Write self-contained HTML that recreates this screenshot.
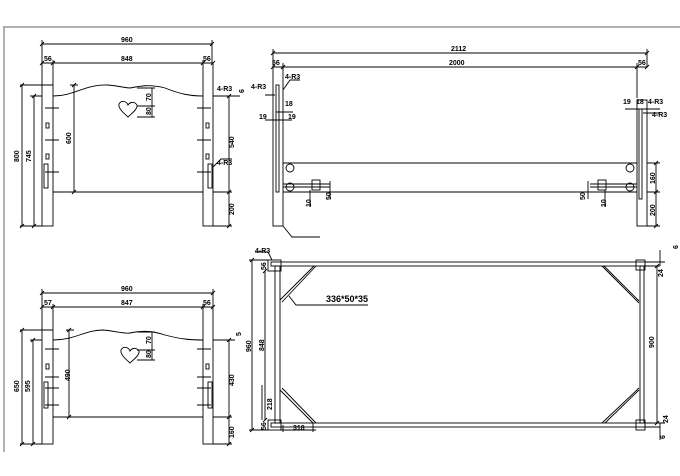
<!DOCTYPE html>
<html><head><meta charset="utf-8"><style>
html,body{margin:0;padding:0;background:#fff}
svg{display:block}
text{font-family:"Liberation Sans",sans-serif;font-size:7px;font-weight:bold;fill:#000}
</style></head><body>
<svg width="680" height="476" viewBox="0 0 680 476" xmlns="http://www.w3.org/2000/svg">
<g fill="none" stroke="#999" stroke-width="1.5"><path d="M3 27H680M4 27V452"/></g>
<g fill="none" stroke="#000" stroke-width="0.9">
<path d="M42 44H212M42 40V63M212 40V63M42 63H213M53 60V63M203 60V63"/>
<path d="M40 46l4-4M210 46l4-4M40 65l4-4M51 65l4-4M201 65l4-4M211 65l4-4"/>
<rect x="42" y="63" width="11" height="163"/><rect x="203" y="63" width="10" height="163"/>
<path d="M53 96C75 96 85 84 108 85C120 86 125 88 130 88C140 86 150 84 165 88C180 94 190 96 203 96"/>
<path d="M53 192H203"/>
<path d="M20 85H53M22 85V226M30 96H42M34 96V226M20 226H42M70 85H78M74 85V192M70 192H78"/>
<path d="M20 228l4-4M32 228l4-4M20 87l4-4M32 98l4-4M72 87l4-4M72 194l4-4"/>
<path d="M213 96H232M229 96V226M213 192H232M213 226H232M227 98l4-4M227 194l4-4M227 228l4-4"/>
<path d="M119 104c3-5 8-2 9 1c2-3 6-4 9 0c1 4-6 9-9 12c-3-3-10-8-9-13z"/>
<path d="M137 88H155M152 88V117M137 106H155M137 117H155"/>
<path d="M45 108H59M45 140H59M45 172H59M197 108H211M197 140H211M197 172H211"/>
<rect x="46" y="123" width="3" height="5"/><rect x="46" y="154" width="3" height="5"/>
<rect x="206" y="123" width="3" height="5"/><rect x="206" y="154" width="3" height="5"/>
<rect x="44" y="164" width="4" height="24"/><rect x="208" y="164" width="4" height="24"/>
<path d="M213 96H240M213 167l8-8H232"/>
<path d="M273 53H647M273 49V67M647 49V67M273 67H647M283 63V70M637 63V98"/>
<path d="M271 55l4-4M645 55l4-4M271 69l4-4M281 69l4-4M635 69l4-4M645 69l4-4"/>
<rect x="273" y="67" width="10" height="159"/><rect x="276" y="85" width="3" height="107"/>
<rect x="637" y="100" width="10" height="126"/><rect x="639" y="109" width="3" height="90"/>
<path d="M283 163H637M283 192H637M283 184H330M283 187H330M590 184H637M590 187H637"/>
<circle cx="290" cy="168" r="4"/><circle cx="290" cy="187" r="4"/>
<circle cx="630" cy="168" r="4"/><circle cx="630" cy="187" r="4"/>
<rect x="312" y="180" width="8" height="10"/><rect x="598" y="180" width="8" height="10"/>
<path d="M330 181V199M310 190V207M588 181V199M605 190V207"/>
<path d="M647 163H660M647 192H660M647 226H660M656 163V226M654 194l4-4M654 165l4-4M654 228l4-4"/>
<path d="M283 226L292 237H320"/>
<path d="M283 90L290 80H300M265 95H275M276 112H293M265 120H292M625 109H660M643 113H660"/>
<path d="M42 293H213M42 289V307M213 289V307M42 307H213M53 304V307M203 304V307"/>
<path d="M40 295l4-4M211 295l4-4M40 309l4-4M51 309l4-4M201 309l4-4M211 309l4-4"/>
<rect x="42" y="307" width="11" height="137"/><rect x="203" y="307" width="10" height="137"/>
<path d="M53 340C75 340 85 330 103 330C115 331 125 334 130 333C140 331 150 330 165 335C180 339 190 340 203 340"/>
<path d="M53 417H203"/>
<path d="M20 330H53M22 330V444M30 340H42M33 340V444M20 444H42M66 330H74M69 330V417M66 417H74"/>
<path d="M20 446l4-4M31 446l4-4M20 332l4-4M31 342l4-4M67 332l4-4M67 419l4-4"/>
<path d="M213 340H232M229 340V444M213 417H232M213 444H232M227 342l4-4M227 419l4-4M227 446l4-4"/>
<path d="M121 350c3-5 8-2 9 1c2-3 6-4 9 0c1 4-6 9-9 12c-3-3-10-8-9-13z"/>
<path d="M137 332H155M152 332V360M137 350H155M137 360H155"/>
<path d="M45 349H59M45 377H59M45 388H59M45 405H59M197 349H211M197 377H211M197 388H211M197 405H211"/>
<rect x="46" y="364" width="3" height="5"/><rect x="206" y="364" width="3" height="5"/>
<rect x="44" y="382" width="4" height="26"/><rect x="208" y="382" width="4" height="26"/>
<path d="M213 340H235"/>
<rect x="271" y="262" width="374" height="4"/><rect x="271" y="423" width="374" height="4"/>
<rect x="275" y="266" width="5" height="157"/><rect x="640" y="266" width="4" height="157"/>
<rect x="268" y="260" width="13" height="11"/><rect x="636" y="260" width="9" height="10"/>
<rect x="268" y="420" width="13" height="10"/><rect x="636" y="420" width="9" height="10"/>
<path d="M280 300L314 266M282 302L316 266M280 390L313 423M282 388L316 423M604 266L639 301M602 266L639 303M605 423L639 390M602 423L639 388"/>
<path d="M289 296L296 305H368"/>
<path d="M252 260V430M249 260H268M249 430H268M265 271V420M262 385V420M283 425V432M313 423V432M280 430H316"/>
<path d="M250 262l4-4M250 432l4-4M263 273l4-4M263 422l4-4"/>
<path d="M645 262H665M645 266H660M645 423H665M645 427H660M657 266V423M660 250V266M660 423V440M655 268l4-4M655 425l4-4"/>
<path d="M255 252H268L272 260"/>
</g>
<g>
<text x="121" y="42">960</text><text x="44" y="61">56</text><text x="121" y="61">848</text><text x="203" y="61">56</text>
<text x="217" y="91">4-R3</text><text x="217" y="165">4-R3</text>
<text transform="translate(19,162) rotate(-90)">800</text><text transform="translate(31,162) rotate(-90)">745</text>
<text transform="translate(71,144) rotate(-90)">600</text><text transform="translate(151,101) rotate(-90)">70</text>
<text transform="translate(151,115) rotate(-90)">80</text><text transform="translate(234,148) rotate(-90)">540</text>
<text transform="translate(234,215) rotate(-90)">200</text><text transform="translate(244,93) rotate(-90)">6</text>
<text x="451" y="51">2112</text><text x="272" y="65">56</text><text x="449" y="65">2000</text><text x="638" y="65">56</text>
<text x="285" y="79">4-R3</text><text x="251" y="89">4-R3</text><text x="285" y="106">18</text>
<text x="259" y="119">19</text><text x="288" y="119">19</text>
<text x="623" y="104">19</text><text x="636" y="104">18</text><text x="648" y="104">4-R3</text><text x="652" y="117">4-R3</text>
<text transform="translate(311,207) rotate(-90)">10</text><text transform="translate(331,200) rotate(-90)">50</text>
<text transform="translate(585,200) rotate(-90)">50</text><text transform="translate(606,207) rotate(-90)">10</text>
<text transform="translate(655,184) rotate(-90)">160</text><text transform="translate(655,216) rotate(-90)">200</text>
<text x="121" y="291">960</text><text x="44" y="305">57</text><text x="121" y="305">847</text><text x="203" y="305">56</text>
<text transform="translate(19,392) rotate(-90)">650</text><text transform="translate(30,392) rotate(-90)">595</text>
<text transform="translate(70,381) rotate(-90)">490</text><text transform="translate(151,344) rotate(-90)">70</text>
<text transform="translate(151,358) rotate(-90)">80</text><text transform="translate(234,386) rotate(-90)">430</text>
<text transform="translate(234,438) rotate(-90)">160</text><text transform="translate(241,336) rotate(-90)">5</text>
<text x="255" y="253">4-R3</text><text transform="translate(266,270) rotate(-90)">56</text>
<text transform="translate(251,352) rotate(-90)">960</text><text transform="translate(264,351) rotate(-90)">848</text>
<text transform="translate(272,410) rotate(-90)">218</text><text transform="translate(266,430) rotate(-90)">56</text>
<text x="293" y="430">318</text><text x="326" y="302" style="font-size:9px">336*50*35</text>
<text transform="translate(654,348) rotate(-90)">900</text><text transform="translate(678,249) rotate(-90)">6</text>
<text transform="translate(663,277) rotate(-90)">24</text><text transform="translate(668,423) rotate(-90)">24</text>
<text transform="translate(665,439) rotate(-90)">6</text>
</g>
</svg>
</body></html>
